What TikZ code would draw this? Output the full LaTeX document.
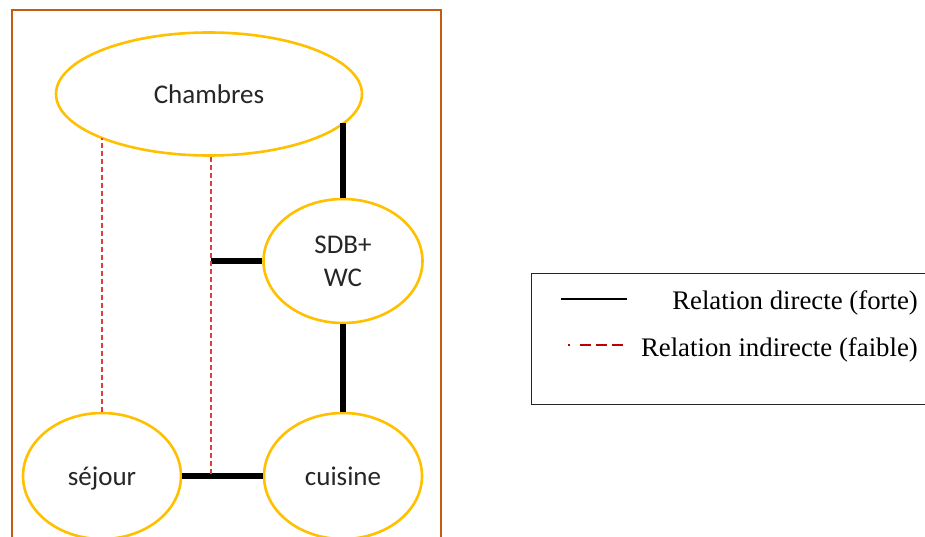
\documentclass[tikz,border=0pt]{standalone}
\usepackage{fontspec}
\setmainfont{Liberation Serif}
\newfontfamily\calfont{Carlito}
\usetikzlibrary{shapes.geometric}
\definecolor{frameor}{HTML}{C55A11}
\definecolor{gold}{HTML}{FFC000}
\definecolor{dred}{HTML}{C00000}
\definecolor{lred}{HTML}{E03C3C}
\tikzset{
  room/.style={ellipse, draw=gold, line width=2.6pt, inner sep=0pt, align=center,
    font=\calfont\fontsize{27}{33}\selectfont, text=black!85},
  oneline/.style={text height=19pt, text depth=0pt},
  strong/.style={line width=5.5pt, black},
  weak/.style={line width=1.2pt, lred, dash pattern=on 5pt off 3pt},
  legtext/.style={font=\fontsize{26.8}{30}\selectfont, anchor=base east, inner sep=0pt}
}
\begin{document}
\begin{tikzpicture}[x=1pt,y=-1pt]
\clip (0,0) rectangle (925,537);
\fill[white] (0,0) rectangle (925,537);
% frame
\draw[frameor, line width=1.8pt] (12,10) rectangle (441,560);
% rooms
\node[room, minimum width=306pt, minimum height=123pt] (ch) at (209,94) {Chambres};
\node[room, minimum width=159pt, minimum height=124pt] (sdb) at (343,261) {SDB+\\WC};
\node[room, oneline, minimum width=158pt, minimum height=126pt] (sej) at (102,476) {séjour};
\node[room, oneline, minimum width=158pt, minimum height=126pt] (cui) at (343,476) {cuisine};
% helper coordinates
\coordinate (chs) at ([xshift=2pt]ch.south);
\coordinate (jt) at (chs |- sej.east);
\coordinate (js) at (chs |- sdb.west);
% strong relations
\draw[strong] (sdb.north) -- (sdb.north |- ch.-12.6);
\draw[strong] (sdb.south) -- (cui.north);
\draw[strong] (sej.east) -- (cui.west);
\draw[strong] (js) -- (sdb.west);
% weak relations
\draw[weak] (sej.north) -- (sej.north |- ch.202.4);
\draw[weak] (chs) -- (jt);
% legend
\node[draw=black!85, line width=1.4pt, minimum width=404pt, minimum height=131pt, anchor=north west, inner sep=0pt] (leg) at (531,273) {};
\coordinate (s1) at (561,299);
\coordinate (s2) at (627,299);
\draw[line width=2.6pt] (s1) -- (s2);
\coordinate (d0) at (568,345);
\coordinate (d1) at (580,345);
\coordinate (d2) at (627,345);
\draw[dred, line width=1.6pt] (d0) -- ++(1.5,0);
\draw[dred, line width=1.8pt, dash pattern=on 11pt off 5pt] (d1) -- (d2);
\node[legtext] (l1) at (918,309) {Relation directe (forte)};
\node[legtext] (l2) at (918,356) {Relation indirecte (faible)};
\end{tikzpicture}
\end{document}
